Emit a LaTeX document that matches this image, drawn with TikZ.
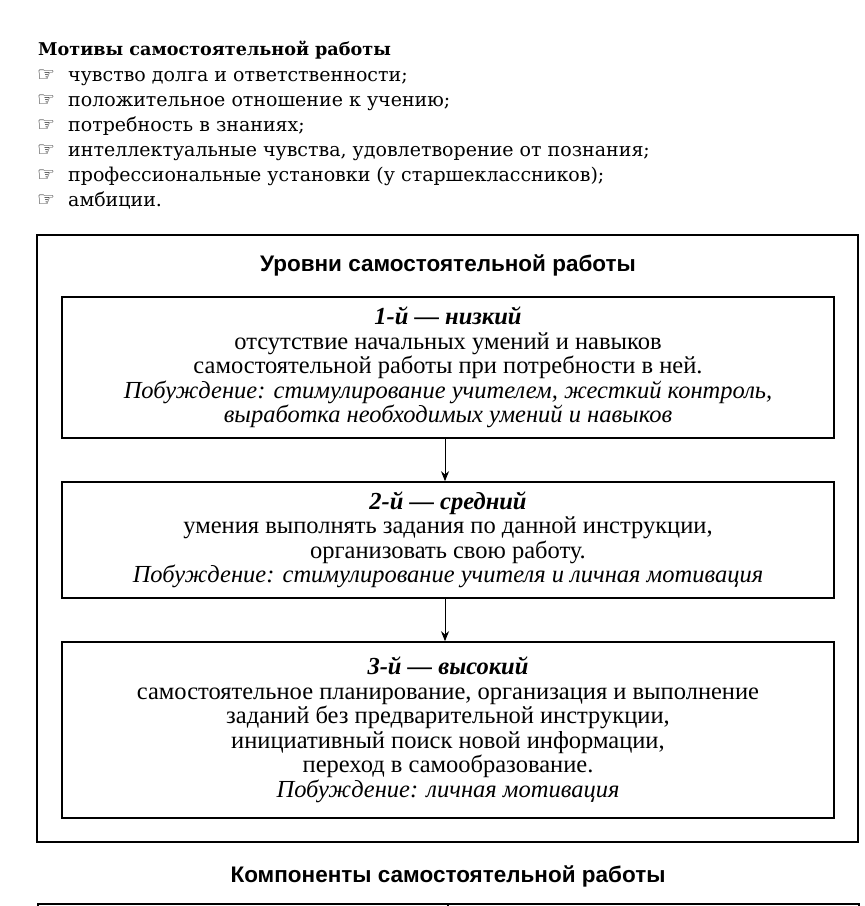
\documentclass[tikz,border=0pt]{standalone}
\usepackage{fontspec}
\setmainfont{Liberation Serif}
\newfontfamily\listfont{DejaVu Serif}
\newfontfamily\headfont{Liberation Sans}
\newfontfamily\symfont{DejaVu Sans}
\usetikzlibrary{arrows.meta}
\begin{document}
\begin{tikzpicture}[x=1pt,y=-1pt,
  frame/.style={draw, line width=1.6pt, inner sep=0pt},
  level/.style={frame, minimum width=772pt, align=center, font=\fontsize{24.5}{24.5}\selectfont},
  listtext/.style={anchor=base west, inner sep=0pt, font=\listfont\fontsize{19}{20}\selectfont},
  bulletsym/.style={anchor=base west, inner sep=0pt, font=\symfont\fontsize{20}{20}\selectfont},
  heading/.style={anchor=base, inner sep=0pt, font=\headfont\bfseries\fontsize{22.5}{24}\selectfont},
  flow/.style={-{Stealth[length=10pt,width=8pt]}, line width=0.9pt}]
\clip (0,0) rectangle (865,906);
\fill[white] (0,0) rectangle (865,906);
% motives
\node[listtext, font=\listfont\bfseries\fontsize{17.6}{20}\selectfont] (mt) at (38,55) {Мотивы самостоятельной работы};
\foreach \i/\t in {0/{чувство долга и ответственности;},
                   1/{положительное отношение к учению;},
                   2/{потребность в знаниях;},
                   3/{интеллектуальные чувства, удовлетворение от познания;},
                   4/{профессиональные установки (у старшеклассников);},
                   5/{амбиции.}} {
  \node[bulletsym] (s\i) at (37,81+25*\i) {☞};
  \node[listtext] (m\i) at (68,81+25*\i) {\t};
}
% levels
\node[frame, minimum width=821pt, minimum height=607pt] (outer) at (447.5,538.5) {};
\node[heading] (lvl) at (448,271) {Уровни самостоятельной работы};
\node[level, minimum height=141pt] (b1) at (448,367.5)
  {\textbf{\textit{1-й — низкий}}\\
   отсутствие начальных умений и навыков\\
   самостоятельной работы при потребности в ней.\\
   \textit{Побуждение: стимулирование учителем, жесткий контроль,}\\
   \textit{выработка необходимых умений и навыков}};
\node[level, minimum height=116pt] (b2) at (448,540)
  {\textbf{\textit{2-й — средний}}\\
   умения выполнять задания по данной инструкции,\\
   организовать свою работу.\\
   \textit{Побуждение: стимулирование учителя и личная мотивация}};
\node[level, minimum height=176pt] (b3) at (448,730)
  {\textbf{\textit{3-й — высокий}}\\
   самостоятельное планирование, организация и выполнение\\
   заданий без предварительной инструкции,\\
   инициативный поиск новой информации,\\
   переход в самообразование.\\
   \textit{Побуждение: личная мотивация}};
\draw[flow] ([xshift=-3pt]b1.south) -- ([xshift=-3pt]b2.north);
\draw[flow] ([xshift=-3pt]b2.south) -- ([xshift=-3pt]b3.north);
% components
\node[heading] (cmp) at (448,882) {Компоненты самостоятельной работы};
\node[frame, anchor=north west, minimum width=410pt, minimum height=40pt] (c1) at (37,903) {};
\node[frame, anchor=north west, minimum width=411pt, minimum height=40pt] (c2) at (447,903) {};
\end{tikzpicture}
\end{document}
